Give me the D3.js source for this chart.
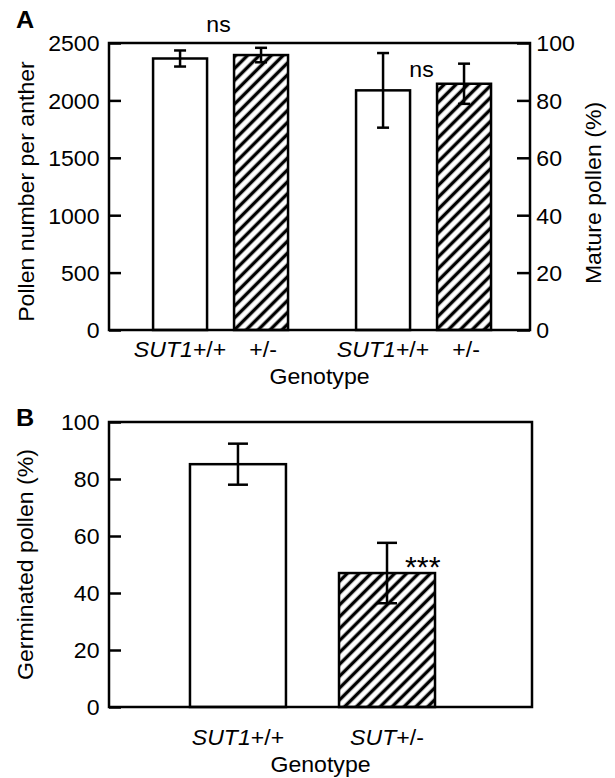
<!DOCTYPE html>
<html><head><meta charset="utf-8">
<script src="https://cdn.jsdelivr.net/npm/d3@7"></script>
<style>
body{margin:0;background:#fff}
svg{display:block}
text{font-family:"Liberation Sans",Arial,Helvetica,sans-serif;fill:#000}
</style>
</head><body><div id="chart"></div>
<script>
// ---------- data ----------
const groupsA = ["pollenNumber", "maturePollen"];
const genotypesA = ["wt", "het"];
const labelsA = [["SUT1", "+/+"], ["", "+/-"]];          // [italic part, upright part]
const pollenNumberMean = [2365, 2395];
const pollenNumberErr = [70, 63];
const maturePollenMean = [83.5, 85.8];
const maturePollenErr = [13, 7];
const leftTicksA = [0, 500, 1000, 1500, 2000, 2500];
const rightTicksA = [0, 20, 40, 60, 80, 100];
const sigA = ["ns", "ns"];

const genotypesB = ["wt", "het"];
const labelsB = [["SUT1", "+/+"], ["SUT", "+/-"]];
const germinatedMean = [85.2, 47];
const germinatedErr = [7.2, 10.6];
const ticksB = [0, 20, 40, 60, 80, 100];
const sigB = ["", "***"];

// ---------- layout ----------
const W = 615, H = 778;
const FS = 22, SX = 1.05, SW = 2.5;
const svg = d3.select("#chart").append("svg").attr("width", W).attr("height", H);

const defs = svg.append("defs");
const P = 8.4;
const pat = defs.append("pattern").attr("id", "hatch")
  .attr("patternUnits", "userSpaceOnUse").attr("width", P).attr("height", P)
  .attr("patternTransform", "rotate(45)");
pat.append("rect").attr("width", P).attr("height", P).attr("fill", "#fff");
pat.append("line").attr("x1", P / 2).attr("y1", -1).attr("x2", P / 2).attr("y2", P + 1)
  .attr("stroke", "#000").attr("stroke-width", 3.4);
const fills = ["#fff", "url(#hatch)"];

function txt(g, x, y, str, opts = {}) {
  const t = g.append("text")
    .attr("transform", `translate(${x},${y})` + (opts.rot ? ` rotate(${opts.rot})` : "") + ` scale(${SX},1)`)
    .attr("text-anchor", opts.anchor || "middle")
    .style("font-size", (opts.size || FS) + "px");
  if (opts.bold) t.style("font-weight", "bold");
  if (Array.isArray(str)) {
    if (str[0]) t.append("tspan").style("font-style", "italic").text(str[0]);
    t.append("tspan").text(str[1]);
  } else t.text(str);
  return t;
}

function styleAxis(g) {
  g.select(".domain").remove();
  g.selectAll(".tick line").attr("stroke", "#000").attr("stroke-width", SW);
  g.selectAll(".tick text").style("font-size", FS + "px")
    .attr("font-family", "Liberation Sans, Arial, sans-serif")
    .attr("transform", `scale(${SX},1)`).attr("dy", "0.36em").attr("fill", "#000");
}

function errBar(g, cx, yTop, yBot, cap) {
  g.append("line").attr("x1", cx).attr("x2", cx).attr("y1", yTop).attr("y2", yBot)
    .attr("stroke", "#000").attr("stroke-width", SW);
  [yTop, yBot].forEach(y => g.append("line").attr("x1", cx - cap / 2).attr("x2", cx + cap / 2)
    .attr("y1", y).attr("y2", y).attr("stroke", "#000").attr("stroke-width", SW));
}

const fmt = d3.format("d");

// ---------- Panel A ----------
const A = { l: 109, r: 530, t: 43, b: 330 };
const gA = svg.append("g");
const xGroupA = d3.scaleBand().domain(groupsA).range([A.l, A.r]).paddingInner(0).paddingOuter(0.037).align(0.67);
const xInnerA = d3.scaleBand().domain(genotypesA).range([0, xGroupA.bandwidth()]).paddingInner(1 / 3).paddingOuter(0.42);
const yLeftA = d3.scaleLinear().domain([0, 2500]).range([A.b, A.t]);
const yRightA = d3.scaleLinear().domain([0, 100]).range([A.b, A.t]);

const seriesA = [
  { g: groupsA[0], mean: pollenNumberMean, err: pollenNumberErr, y: yLeftA },
  { g: groupsA[1], mean: maturePollenMean, err: maturePollenErr, y: yRightA }
];
seriesA.forEach((s, si) => {
  genotypesA.forEach((gt, i) => {
    const x0 = xGroupA(s.g) + xInnerA(gt);
    const bw = xInnerA.bandwidth();
    gA.append("rect").attr("x", x0).attr("width", bw)
      .attr("y", s.y(s.mean[i])).attr("height", A.b - s.y(s.mean[i]))
      .attr("fill", fills[i]).attr("stroke", "#000").attr("stroke-width", SW);
  });
  genotypesA.forEach((gt, i) => {
    const cx = xGroupA(s.g) + xInnerA(gt) + xInnerA.bandwidth() / 2;
    errBar(gA, cx, s.y(s.mean[i] + s.err[i]), s.y(s.mean[i] - s.err[i]), 12);
    txt(gA, cx + (i ? 2 : 0), 357, labelsA[i]);
  });
});
// significance labels
txt(gA, xGroupA(groupsA[0]) + xGroupA.bandwidth() / 2 - 2, yLeftA(2500) - 11, sigA[0]);
txt(gA, xGroupA(groupsA[1]) + xGroupA.bandwidth() / 2 - 2, yRightA(88.2), sigA[1]);

gA.append("g").attr("transform", `translate(${A.l},0)`)
  .call(d3.axisLeft(yLeftA).tickValues(leftTicksA).tickFormat(fmt).tickSizeInner(-12).tickSizeOuter(0).tickPadding(9))
  .call(styleAxis);
gA.append("g").attr("transform", `translate(${A.r},0)`)
  .call(d3.axisRight(yRightA).tickValues(rightTicksA).tickFormat(fmt).tickSizeInner(-13).tickSizeOuter(0).tickPadding(6))
  .call(styleAxis);
gA.append("rect").attr("x", A.l).attr("y", A.t).attr("width", A.r - A.l).attr("height", A.b - A.t)
  .attr("fill", "none").attr("stroke", "#000").attr("stroke-width", SW);

txt(gA, 34, (A.t + A.b) / 2 + 5, "Pollen number per anther", { rot: -90 });
txt(gA, 601, 193, "Mature pollen (%)", { rot: -90 });
txt(gA, (A.l + A.r) / 2, 384, "Genotype");
txt(gA, 16, 28, "A", { anchor: "start", bold: true, size: 24 });

// ---------- Panel B ----------
const B = { l: 109, r: 532, t: 422, b: 707 };
const gB = svg.append("g");
const xB = d3.scaleBand().domain(genotypesB).range([B.l, B.r]).paddingInner(0.356).paddingOuter(0.597).align(0.455);
const yB = d3.scaleLinear().domain([0, 100]).range([B.b, B.t]);

genotypesB.forEach((gt, i) => {
  gB.append("rect").attr("x", xB(gt)).attr("width", xB.bandwidth())
    .attr("y", yB(germinatedMean[i])).attr("height", B.b - yB(germinatedMean[i]))
    .attr("fill", fills[i]).attr("stroke", "#000").attr("stroke-width", SW);
});
genotypesB.forEach((gt, i) => {
  const cx = xB(gt) + xB.bandwidth() / 2;
  errBar(gB, cx, yB(germinatedMean[i] + germinatedErr[i]), yB(germinatedMean[i] - germinatedErr[i]), 20);
  txt(gB, cx, 745, labelsB[i]);
  if (sigB[i]) txt(gB, cx + 18, yB(germinatedMean[i]) + 4, sigB[i], { anchor: "start", size: 29 });
});

gB.append("g").attr("transform", `translate(${B.l},0)`)
  .call(d3.axisLeft(yB).tickValues(ticksB).tickFormat(fmt).tickSizeInner(-12).tickSizeOuter(0).tickPadding(9))
  .call(styleAxis);
gB.append("rect").attr("x", B.l).attr("y", B.t).attr("width", B.r - B.l).attr("height", B.b - B.t)
  .attr("fill", "none").attr("stroke", "#000").attr("stroke-width", SW);

txt(gB, 33, (B.t + B.b) / 2, "Germinated pollen (%)", { rot: -90 });
txt(gB, (B.l + B.r) / 2, 772, "Genotype");
txt(gB, 16, 426, "B", { anchor: "start", bold: true, size: 24 });
</script>
</body></html>
